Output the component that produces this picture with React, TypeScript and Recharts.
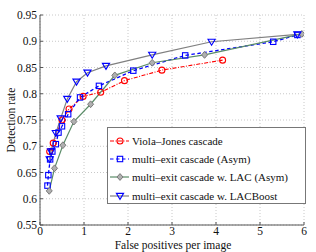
import React from "react";
import { LineChart, Line, XAxis, YAxis, CartesianGrid } from "recharts";

// false positives per image / detection rate
const vjFp = [0.22, 0.3, 0.5, 0.66, 0.98, 1.38, 1.92, 2.77, 4.15];
const vjDr = [0.69, 0.706, 0.75, 0.771, 0.795, 0.803, 0.825, 0.845, 0.864];

const asymFp = [0.17, 0.19, 0.23, 0.28, 0.36, 0.42, 0.5, 0.64, 0.91, 1.34, 2.12, 3.3, 5.3, 5.85];
const asymDr = [0.625, 0.645, 0.675, 0.69, 0.704, 0.726, 0.738, 0.761, 0.793, 0.815, 0.844, 0.873, 0.899, 0.912];

const lacFp = [0.21, 0.33, 0.52, 0.77, 1.15, 1.7, 2.55, 3.74, 5.95];
const lacDr = [0.615, 0.658, 0.702, 0.747, 0.78, 0.835, 0.859, 0.874, 0.914];

const boostFp = [0.22, 0.25, 0.36, 0.47, 0.62, 0.83, 1.08, 1.5, 2.55, 3.9, 5.85];
const boostDr = [0.675, 0.69, 0.725, 0.753, 0.79, 0.823, 0.84, 0.853, 0.874, 0.899, 0.913];

const xTicks = [0, 1, 2, 3, 4, 5, 6];
const yTicks = [0.55, 0.6, 0.65, 0.7, 0.75, 0.8, 0.85, 0.9, 0.95];

const seriesNames = [
  "Viola\u2013Jones cascade",
  "multi\u2013exit cascade (Asym)",
  "multi\u2013exit cascade w. LAC (Asym)",
  "multi\u2013exit cascade w. LACBoost",
];

const zip = (xs: number[], ys: number[]) => xs.map((x, i) => ({ x, y: ys[i] }));

const FONT = "'Liberation Serif', 'DejaVu Serif', serif";

type Kind = "circle" | "square" | "diamond" | "tri";

function Marker({ kind, cx, cy }: { kind: Kind; cx: number; cy: number }) {
  if (kind === "circle")
    return <circle cx={cx} cy={cy} r={3} fill="none" stroke="#ff0000" strokeWidth={1.1} />;
  if (kind === "square")
    return <rect x={cx - 2.7} y={cy - 2.7} width={5.4} height={5.4} fill="none" stroke="#0000ff" strokeWidth={1.1} />;
  if (kind === "diamond")
    return (
      <path d={`M${cx},${cy - 3.4}L${cx + 3},${cy}L${cx},${cy + 3.4}L${cx - 3},${cy}Z`}
        fill="#b0b0b0" stroke="#7a7a7a" strokeWidth={1} />
    );
  return (
    <path d={`M${cx - 3.6},${cy - 2.6}L${cx + 3.6},${cy - 2.6}L${cx},${cy + 3.4}Z`}
      fill="none" stroke="#0000ff" strokeWidth={1.1} />
  );
}

const dot = (kind: Kind) => (p: any) =>
  <Marker key={`${kind}-${p.index}`} kind={kind} cx={p.cx} cy={p.cy} />;

const legendRows: { color: string; dash?: string; kind: Kind }[] = [
  { color: "#ff0000", dash: "4 1.5 1 1.5", kind: "circle" },
  { color: "#0000ff", dash: "3.5 2.5", kind: "square" },
  { color: "#5a8c68", kind: "diamond" },
  { color: "#808080", kind: "tri" },
];

function LegendBox() {
  return (
    <div style={{
      position: "absolute", left: 107, top: 127,
      border: "1px solid #777", background: "#fff", width: 197, height: 75,
      boxSizing: "content-box", fontFamily: FONT, fontSize: 11, color: "#111",
    }}>
      {legendRows.map((r, i) => (
        <div key={i} style={{ display: "flex", alignItems: "center", height: 18.3, marginTop: i === 0 ? 3.5 : 0 }}>
          <svg width={22} height={10} style={{ marginLeft: 1, flex: "none" }}>
            <line x1={1} y1={5} x2={20} y2={5} stroke={r.color} strokeWidth={1.2} strokeDasharray={r.dash} />
            <Marker kind={r.kind} cx={11} cy={5} />
          </svg>
          <span style={{ marginLeft: 1, whiteSpace: "nowrap", lineHeight: "12px" }}>{seriesNames[i]}</span>
        </div>
      ))}
    </div>
  );
}

const labelStyle = { fill: "#111", fontSize: 11.5, fontFamily: FONT };
const tickStyle = { fill: "#111", fontSize: 11.5, fontFamily: FONT };

export default function App() {
  return (
    <div style={{ position: "absolute", left: 0, top: 0, width: 316, height: 252, background: "#fff" }}>
      <LineChart width={316} height={252} margin={{ top: 15, right: 12, bottom: 2, left: 0 }}>
        <CartesianGrid stroke="#c8c8c8" strokeDasharray="1 2" />
        <XAxis type="number" dataKey="x" domain={[0, 6]} ticks={xTicks} height={25}
          tickSize={-3} tickMargin={5} axisLine={{ stroke: "#555" }} tickLine={{ stroke: "#555" }}
          tick={tickStyle} allowDataOverflow
          label={{
            content: () => (
              <text x={173} y={248.5} textAnchor="middle" {...labelStyle}>False positives per image</text>
            ),
          }} />
        <YAxis type="number" dataKey="y" domain={[0.55, 0.95]} ticks={yTicks} width={40}
          tickSize={-3} tickMargin={6} axisLine={{ stroke: "#555" }} tickLine={{ stroke: "#555" }}
          tickFormatter={(v: number) => String(+v.toFixed(2))}
          tick={tickStyle} allowDataOverflow
          label={{
            content: () => (
              <text x={0} y={0} transform="translate(15,120) rotate(-90)" textAnchor="middle" {...labelStyle}>
                Detection rate
              </text>
            ),
          }} />
        <Line data={zip(vjFp, vjDr)} dataKey="y" name={seriesNames[0]} stroke="#ff0000" strokeWidth={1.1}
          strokeDasharray="4 1.5 1 1.5" dot={dot("circle")} isAnimationActive={false} />
        <Line data={zip(asymFp, asymDr)} dataKey="y" name={seriesNames[1]} stroke="#0000ff" strokeWidth={1.3}
          strokeDasharray="3.5 2.5" dot={dot("square")} isAnimationActive={false} />
        <Line data={zip(lacFp, lacDr)} dataKey="y" name={seriesNames[2]} stroke="#5a8c68" strokeWidth={1.2}
          dot={dot("diamond")} isAnimationActive={false} />
        <Line data={zip(boostFp, boostDr)} dataKey="y" name={seriesNames[3]} stroke="#808080" strokeWidth={1.2}
          dot={dot("tri")} isAnimationActive={false} />
      </LineChart>
      <LegendBox />
    </div>
  );
}
